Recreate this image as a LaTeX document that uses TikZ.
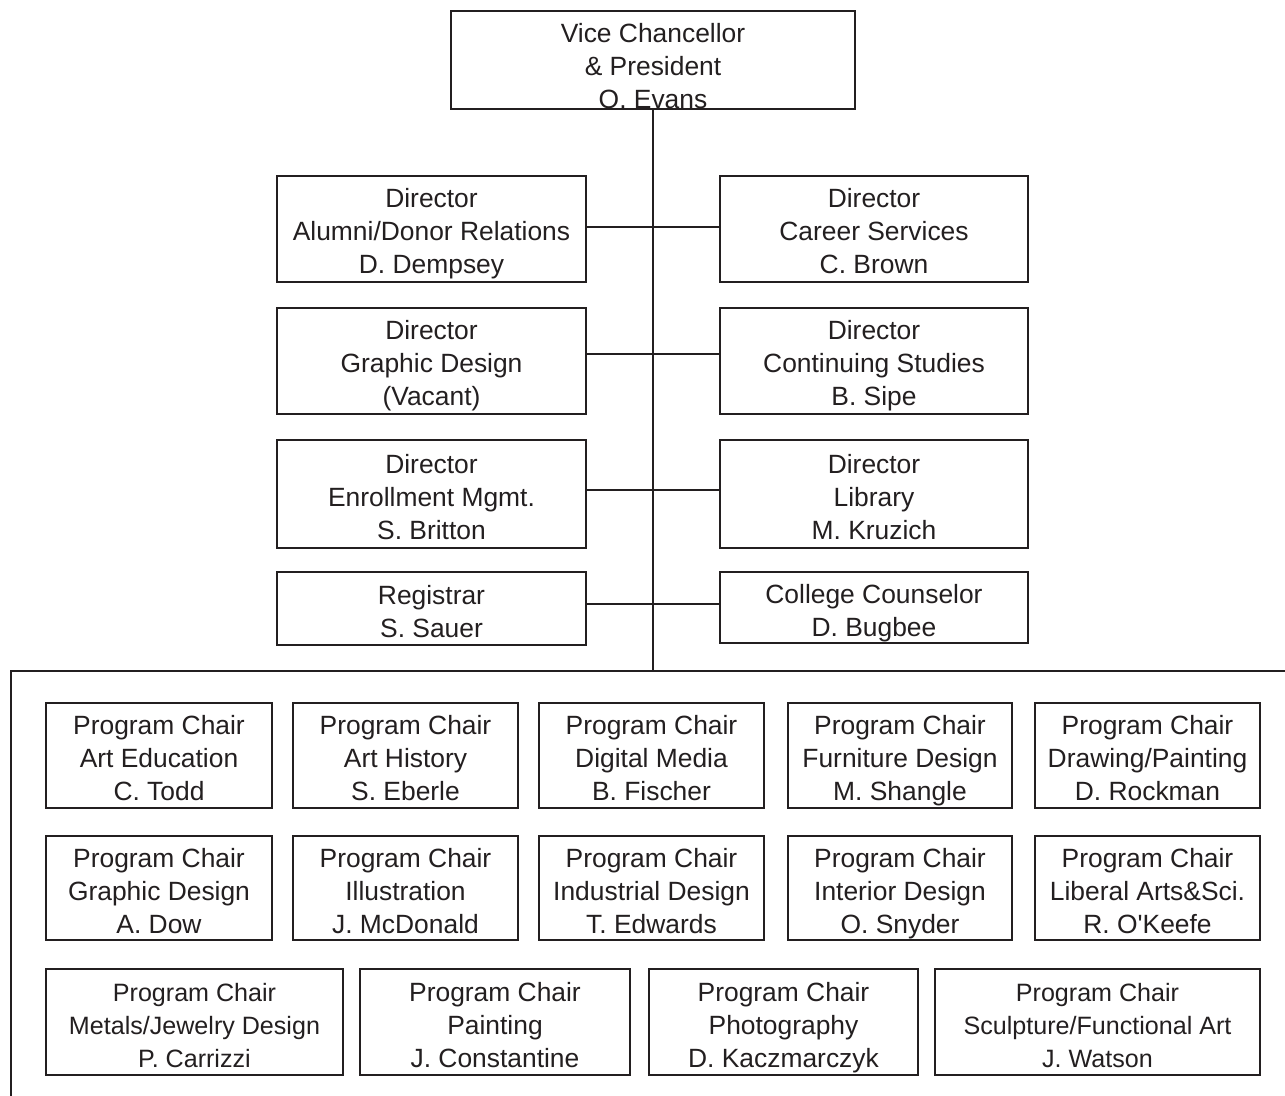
\documentclass[tikz,border=0pt]{standalone}
\usepackage{fontspec}
\setmainfont{Liberation Sans}
\definecolor{ink}{HTML}{231F20}
\begin{document}
\begin{tikzpicture}[x=0.5pt,y=-0.5pt,
  bx/.style 2 args={draw=ink, line width=1pt, minimum width=#1*0.5pt, minimum height=#2*0.5pt,
    inner sep=0pt, align=center, text=ink, font=\fontsize{13.2}{16.5}\selectfont,
    text height=45pt, text depth=0pt},
  two/.style={text height=28.5pt},
  small/.style={font=\fontsize{12.55}{16.5}\selectfont},
  txt/.style={inner sep=0pt, align=center, text=ink, font=\fontsize{13.2}{16.5}\selectfont,
    text height=45pt, text depth=0pt},
  link/.style={draw=ink, line width=1pt}]
\useasboundingbox (0,0) rectangle (1285,1096);
\clip (0,0) rectangle (1285,1096);
\fill[white] (0,0) rectangle (1285,1096);

% top
\node[bx={404}{98}] (vc) at (653,60) {};
\node[txt] (vct) at (653,63.5) {Vice Chancellor\\\& President\\O. Evans};

% directors
\node[bx={309}{106}] (l1) at (431.5,229) {Director\\Alumni/Donor Relations\\D. Dempsey};
\node[bx={308}{106}] (r1) at (874,229) {Director\\Career Services\\C. Brown};
\node[bx={309}{106}] (l2) at (431.5,361) {Director\\Graphic Design\\(Vacant)};
\node[bx={308}{106}] (r2) at (874,361) {Director\\Continuing Studies\\B. Sipe};
\node[bx={309}{108}] (l3) at (431.5,494) {Director\\Enrollment Mgmt.\\S. Britton};
\node[bx={308}{108}] (r3) at (874,494) {Director\\Library\\M. Kruzich};
\node[bx={309}{73}, two] (l4) at (431.5,608.5) {Registrar\\S. Sauer};
\node[bx={308}{71}, two] (r4) at (874,607.5) {College Counselor\\D. Bugbee};

% container and trunk
\coordinate (tj) at (653,671);
\coordinate (cr) at (1295,671);
\coordinate (cl) at (11,671);
\coordinate (cb) at (11,1110);
\coordinate (h1) at (653,227);
\coordinate (h2) at (653,354);
\coordinate (h3) at (653,490);
\coordinate (h4) at (653,604);
\draw[link] (vc.south) -- (tj);
\draw[link] (cr) -- (cl) -- (cb);

\draw[link] (l1.east |- h1) -- (r1.west |- h1);
\draw[link] (l2.east |- h2) -- (r2.west |- h2);
\draw[link] (l3.east |- h3) -- (r3.west |- h3);
\draw[link] (l4.east |- h4) -- (r4.west |- h4);

% program chairs row 1
\node[bx={226}{105}] (p11) at (159,755.5) {Program Chair\\Art Education\\C. Todd};
\node[bx={225}{105}] (p12) at (405.5,755.5) {Program Chair\\Art History\\S. Eberle};
\node[bx={225}{105}] (p13) at (651.5,755.5) {Program Chair\\Digital Media\\B. Fischer};
\node[bx={224}{105}] (p14) at (900,755.5) {Program Chair\\Furniture Design\\M. Shangle};
\node[bx={225}{105}] (p15) at (1147.5,755.5) {Program Chair\\Drawing/Painting\\D. Rockman};
% row 2
\node[bx={226}{104}] (p21) at (159,888) {Program Chair\\Graphic Design\\A. Dow};
\node[bx={225}{104}] (p22) at (405.5,888) {Program Chair\\Illustration\\J. McDonald};
\node[bx={225}{104}] (p23) at (651.5,888) {Program Chair\\Industrial Design\\T. Edwards};
\node[bx={224}{104}] (p24) at (900,888) {Program Chair\\Interior Design\\O. Snyder};
\node[bx={225}{104}] (p25) at (1147.5,888) {Program Chair\\Liberal Arts\&Sci.\\R. O\textquotesingle Keefe};
% row 3
\node[bx={297}{106}, small] (p31) at (194.5,1022) {Program Chair\\Metals/Jewelry Design\\P. Carrizzi};
\node[bx={270}{106}] (p32) at (495,1022) {Program Chair\\Painting\\J. Constantine};
\node[bx={269}{106}] (p33) at (783.5,1022) {Program Chair\\Photography\\D. Kaczmarczyk};
\node[bx={325}{106}, small] (p34) at (1097.5,1022) {Program Chair\\Sculpture/Functional Art\\J. Watson};
\end{tikzpicture}
\end{document}
